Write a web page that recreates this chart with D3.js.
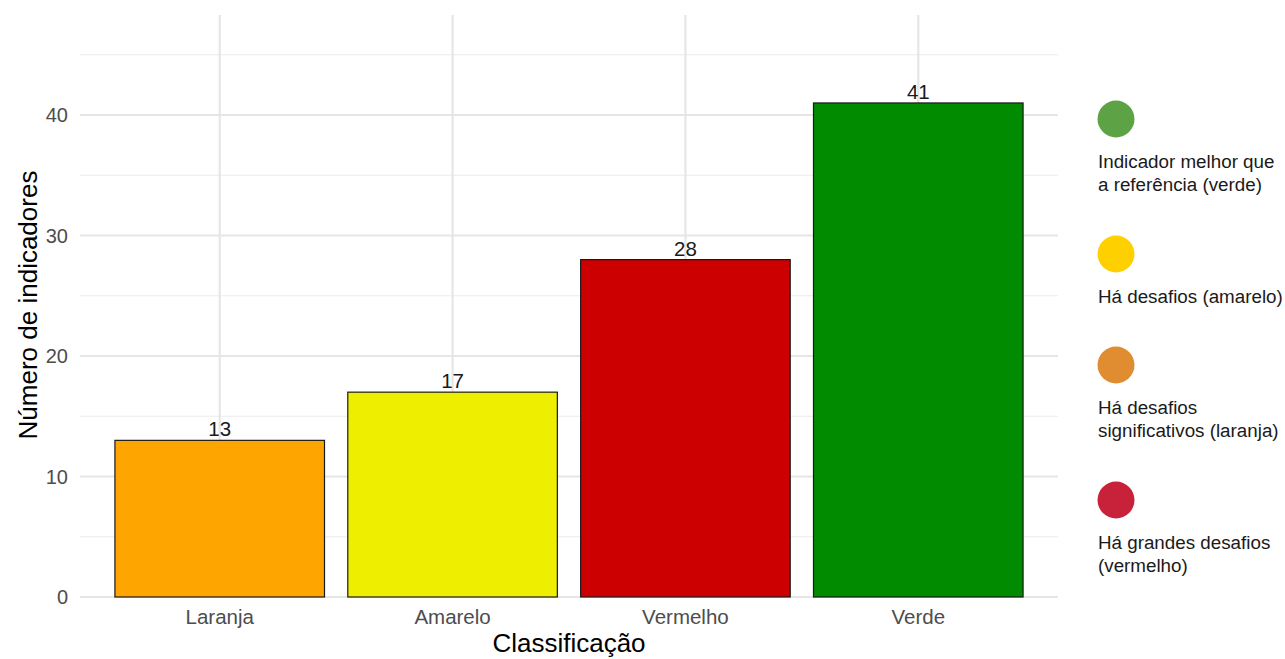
<!DOCTYPE html>
<html><head><meta charset="utf-8">
<script src="https://cdn.jsdelivr.net/npm/d3@7"></script>
<style>body{margin:0;background:#fff;} text{font-family:"Liberation Sans",Arial,sans-serif;}</style>
</head><body>
<svg id="c" width="1285" height="659"></svg>
<script>
const categories = ["Laranja","Amarelo","Vermelho","Verde"];
const values = [13,17,28,41];
const barColors = ["#FFA500","#EEEE00","#CC0000","#008B00"];
const yTicks = [0,10,20,30,40];
const yMinor = [5,15,25,35,45];
const legendLabels = [["Indicador melhor que","a referência (verde)"],["Há desafios (amarelo)"],["Há desafios","significativos (laranja)"],["Há grandes desafios","(vermelho)"]];
const legendColors = ["#5DA345","#FFD000","#E08C30","#C8213A"];

const svg = d3.select("#c");
const x = d3.scaleBand().domain(categories).range([80,1058]).paddingInner(0.1).paddingOuter(0.15);
const y = d3.scaleLinear().domain([0,48.3]).range([597,15]);

// grid
svg.append("g").selectAll("line").data(yMinor).join("line")
  .attr("x1",80).attr("x2",1058).attr("y1",d=>y(d)).attr("y2",d=>y(d))
  .attr("stroke","#EBEBEB").attr("stroke-width",1.2);
svg.append("g").selectAll("line").data(yTicks).join("line")
  .attr("x1",80).attr("x2",1058).attr("y1",d=>y(d)).attr("y2",d=>y(d))
  .attr("stroke","#E6E6E6").attr("stroke-width",2.2);
svg.append("g").selectAll("line").data(categories).join("line")
  .attr("x1",d=>x(d)+x.bandwidth()/2).attr("x2",d=>x(d)+x.bandwidth()/2)
  .attr("y1",15).attr("y2",597)
  .attr("stroke","#E6E6E6").attr("stroke-width",2.2);

// bars
svg.append("g").selectAll("rect").data(values).join("rect")
  .attr("x",(d,i)=>x(categories[i])).attr("width",x.bandwidth())
  .attr("y",d=>y(d)).attr("height",d=>y(0)-y(d))
  .attr("fill",(d,i)=>barColors[i]).attr("stroke","#1a1a1a").attr("stroke-width",1.2);

svg.append("g").selectAll("text").data(values).join("text")
  .attr("x",(d,i)=>x(categories[i])+x.bandwidth()/2).attr("y",d=>y(d)-4)
  .attr("text-anchor","middle").attr("font-size",20.5).attr("fill","#1a1a1a").text(d=>d);

// y axis labels
svg.append("g").selectAll("text").data(yTicks).join("text")
  .attr("x",68).attr("y",d=>y(d)+7).attr("text-anchor","end")
  .attr("font-size",20).attr("fill","#4D4D4D").text(d=>d);
// x axis labels
svg.append("g").selectAll("text").data(categories).join("text")
  .attr("x",d=>x(d)+x.bandwidth()/2).attr("y",624).attr("text-anchor","middle")
  .attr("font-size",20.5).attr("fill","#4D4D4D").text(d=>d);

svg.append("text").attr("transform","translate(37,305) rotate(-90)").attr("text-anchor","middle")
  .attr("font-size",26).attr("fill","#000").text("Número de indicadores");
svg.append("text").attr("x",569).attr("y",652).attr("text-anchor","middle")
  .attr("font-size",26).attr("fill","#000").text("Classificação");

// legend
const ly = [119,254,365,500];
const lg = svg.append("g");
legendLabels.forEach((lines,i)=>{
  lg.append("circle").attr("cx",1116).attr("cy",ly[i]).attr("r",18.5).attr("fill",legendColors[i]);
  lines.forEach((t,j)=>{
    lg.append("text").attr("x",1098).attr("y",ly[i]+49+j*23).attr("font-size",18.8).attr("fill","#1a1a1a").text(t);
  });
});
</script>
</body></html>
